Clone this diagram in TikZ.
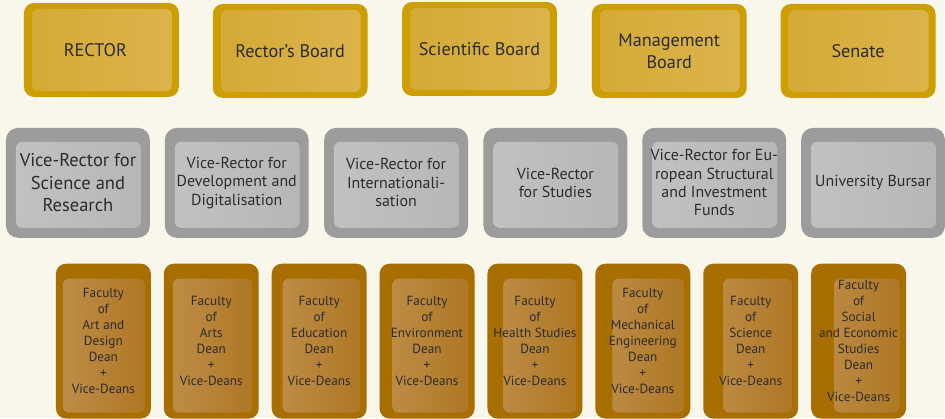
\documentclass[tikz,border=0pt]{standalone}
\usepackage{fontspec}
\setmainfont{PT Sans}

\definecolor{bgcream}{HTML}{F9F6EC}
\definecolor{goldout}{HTML}{CC9E00}
\definecolor{goldlt}{HTML}{DBB44C}
\definecolor{golddk}{HTML}{D4A935}
\definecolor{grayout}{HTML}{9C9C9C}
\definecolor{graylt}{HTML}{C2C2C2}
\definecolor{graydk}{HTML}{B6B6B6}
\definecolor{brownout}{HTML}{A86E00}
\definecolor{brownlt}{HTML}{BE8E4A}
\definecolor{browndk}{HTML}{AE7622}
\definecolor{textgray}{HTML}{2C2C2C}

% inner panel: left, top, right, bottom insets, then two colours
\newcommand{\panel}[6]{%
  \shade[rounded corners=6bp, shading angle=45, left color=#5, right color=#6]
    ([shift={(#1,-#2)}]path picture bounding box.north west)
    rectangle ([shift={(-#3,#4)}]path picture bounding box.south east);}

\begin{document}
\begin{tikzpicture}[x=1bp, y=-1bp]
  % Setup the styles for the boxes
  \tikzset{box/.style={rounded corners=10bp, inner sep=0pt,
                       align=center, text=textgray},
           topbox/.style={box, fill=goldout,
                          minimum width=155bp, minimum height=94bp,
                          font=\fontsize{18.3}{22}\selectfont,
                          path picture={\panel{8bp}{6bp}{7bp}{6bp}{golddk}{goldlt}}},
           vicebox/.style={box, fill=grayout, rounded corners=12bp,
                           minimum width=144bp, minimum height=110bp,
                           font=\fontsize{16}{18.5}\selectfont,
                           path picture={\panel{10bp}{14bp}{9bp}{10bp}{graylt}{graydk}}},
           facultybox/.style={box, fill=brownout,
                              minimum width=95bp, minimum height=155bp,
                              font=\fontsize{13.3}{16}\selectfont,
                              path picture={\panel{#1}{15bp}{6bp}{6bp}{brownlt}{browndk}}}}
  % Background
  \fill[bgcream] (0,0) rectangle (945,418);
  % Draw the top row
  \node[topbox] (rector)     at (101.5,50) {RECTOR\hspace*{12bp}};
  \node[topbox] (board)      at (290.5,51) {Rector’s Board};
  \node[topbox] (scientific) at (480,49)   {Scientific Board};
  \node[topbox] (management) at (670,51)   {Management\\Board};
  \node[topbox] (senate)     at (859,51)   {Senate};
  % Draw the vice-rectors
  \node[vicebox, font=\fontsize{18.6}{22.5}\selectfont] (science) at (78,183)
       {Vice-Rector for\\Science and\\Research};
  \node[vicebox] (development) at (237,183)   {Vice-Rector for\\Development and\\Digitalisation};
  \node[vicebox] (international) at (396.5,183) {Vice-Rector for\\Internationali-\\sation};
  \node[vicebox] (studies)     at (556,183)   {Vice-Rector\\for Studies};
  \node[vicebox] (funds)       at (715,183)   {Vice-Rector for Eu-\\ropean Structural\\and Investment\\Funds};
  \node[vicebox] (bursar)      at (874,183)   {University Bursar};
  % Draw the faculties
  \node[facultybox=7bp]  (artdesign)   at (103.5,341.5) {Faculty\\of\\Art and\\Design\\Dean\\+\\Vice-Deans};
  \node[facultybox=9bp]  (arts)        at (211.5,341.5) {Faculty\\of\\Arts\\Dean\\+\\Vice-Deans};
  \node[facultybox=11bp] (education)   at (319.5,341.5) {Faculty\\of\\Education\\Dean\\+\\Vice-Deans};
  \node[facultybox=13bp] (environment) at (427.5,341.5) {Faculty\\of\\Environment\\Dean\\+\\Vice-Deans};
  \node[facultybox=16bp] (health)      at (535.5,341.5) {Faculty\\of\\Health Studies\\Dean\\+\\Vice-Deans};
  \node[facultybox=17bp] (mechanical)  at (643.5,341.5) {Faculty\\of\\Mechanical\\Engineering\\Dean\\+\\Vice-Deans};
  \node[facultybox=20bp] (sciencefac)  at (751.5,341.5) {Faculty\\of\\Science\\Dean\\+\\Vice-Deans};
  \node[facultybox=23bp] (social)      at (859.5,341.5) {Faculty\\of\\Social\\and Economic\\Studies\\Dean\\+\\Vice-Deans};
\end{tikzpicture}
\end{document}
